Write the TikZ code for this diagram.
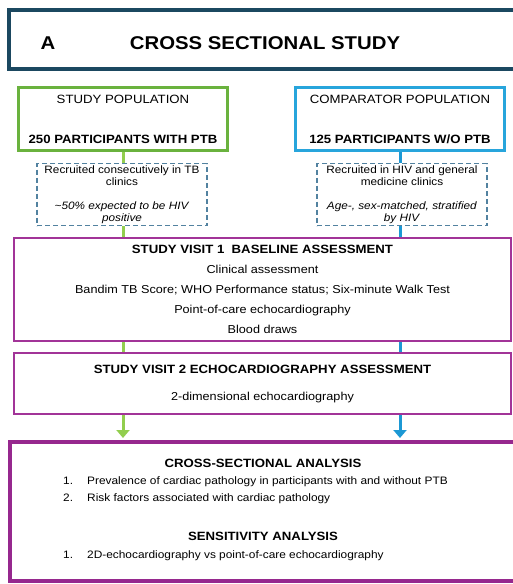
\documentclass[tikz,border=0pt]{standalone}
\usepackage{fontspec}
\setmainfont[FakeStretch=1.1]{Liberation Sans}
\setsansfont[FakeStretch=1.1]{Liberation Sans}
\usetikzlibrary{positioning,arrows.meta,backgrounds}

\definecolor{headnavy}{RGB}{27,72,96}
\definecolor{popgreen}{RGB}{106,178,62}
\definecolor{linkgreen}{RGB}{146,206,78}
\definecolor{popblue}{RGB}{40,165,220}
\definecolor{linkblue}{RGB}{28,152,212}
\definecolor{dashblue}{RGB}{82,130,160}
\definecolor{visitpurple}{RGB}{162,52,152}
\definecolor{resultpurple}{RGB}{150,40,142}

\begin{document}
\begin{tikzpicture}[
    x=1pt, y=-1pt,
    font=\sffamily,
    >={Triangle[length=8pt,width=13pt]},
    headbox/.style ={draw=headnavy, line width=3.5pt, minimum width=536pt,
                     minimum height=59pt, inner sep=0pt},
    headtxt/.style ={font=\fontsize{18.5}{22}\selectfont\bfseries},
    pop/.style     ={draw, line width=3pt, fill=white, align=center,
                     minimum width=209pt, minimum height=63pt, inner sep=0pt,
                     font=\fontsize{12}{14}\selectfont},
    recruit/.style ={draw=dashblue, line width=1.2pt, dash pattern=on 5pt off 3pt,
                     fill=white, align=center, minimum width=170pt,
                     minimum height=62pt, inner sep=0pt,
                     font=\fontsize{10.7}{12}\selectfont},
    visit/.style   ={draw=visitpurple, line width=1.8pt, fill=white, align=center,
                     minimum width=497pt, inner sep=0pt},
    result/.style  ={draw=resultpurple, line width=4pt, minimum width=530pt,
                     minimum height=139pt, inner sep=0pt},
    rhead/.style   ={font=\fontsize{12}{14}\selectfont\bfseries},
    ritem/.style   ={anchor=west, inner sep=0pt, font=\fontsize{10.8}{12}\selectfont},
    glink/.style   ={line width=3pt, linkgreen},
    blink/.style   ={line width=3pt, linkblue},
  ]
  \useasboundingbox (0,0) rectangle (513,584);

  % ------------------------------------------------------------- heading ---
  \node[headbox] (head) at (277,39.5) {};
  \node[headtxt] (letter) at (48,43) {A};
  \node[headtxt] (title) at (265,43) {CROSS SECTIONAL STUDY};

  % --------------------------------------------------------- populations ---
  \node[pop, draw=popgreen] (studypop) at (123,119)
        {STUDY POPULATION\\[26pt]\textbf{250 PARTICIPANTS WITH PTB}};
  \node[pop, draw=popblue] (comppop) at (400,119)
        {COMPARATOR POPULATION\\[26pt]\textbf{125 PARTICIPANTS W/O PTB}};

  % ---------------------------------------------------------- recruitment ---
  \node[recruit] (studyrec) at (122,194.5)
        {Recruited consecutively in TB\\clinics\\[12pt]
        \textit{\textasciitilde50\% expected to be HIV}\\\textit{positive}};
  \node[recruit] (comprec) at (402,194.5)
        {Recruited in HIV and general\\medicine clinics\\[12pt]
        \textit{Age-, sex-matched, stratified}\\\textit{by HIV}};

  % --------------------------------------------------------------- visits ---
  \node[visit, minimum height=103pt, font=\fontsize{11.5}{20}\selectfont]
        (visitone) at (262.5,289.5)
        {{\fontsize{12}{14}\selectfont\bfseries STUDY VISIT 1\ \ BASELINE ASSESSMENT}\\
        Clinical assessment\\
        Bandim TB Score; WHO Performance status; Six-minute Walk Test\\
        Point-of-care echocardiography\\
        Blood draws};
  \node[visit, minimum height=61pt, font=\fontsize{11.5}{27}\selectfont]
        (visittwo) at (262.5,383.5)
        {{\fontsize{12}{14}\selectfont\bfseries STUDY VISIT 2 ECHOCARDIOGRAPHY ASSESSMENT}\\
        2-dimensional echocardiography};

  % ------------------------------------------------------------- analysis ---
  \node[result] (analysis) at (275,511.5) {};
  \node[rhead] (crossh) at (263,463) {CROSS-SECTIONAL ANALYSIS};
  \node[ritem] (crossa) at (63,482)
        {\makebox[24pt][l]{1.}Prevalence of cardiac pathology in participants with and without PTB};
  \node[ritem] (crossb) at (63,499)
        {\makebox[24pt][l]{2.}Risk factors associated with cardiac pathology};
  \node[rhead] (sensh) at (263,536) {SENSITIVITY ANALYSIS};
  \node[ritem] (sensa) at (63,556)
        {\makebox[24pt][l]{1.}2D-echocardiography vs point-of-care echocardiography};

  % ===================================================== edges ================
  \begin{scope}[on background layer]
    % study arm
    \draw[glink] (studypop.south) -- (studypop.south |- studyrec.north);
    \draw[glink] (studypop.south |- studyrec.south) -- (studypop.south |- visitone.north);
    \draw[glink] (studypop.south |- visitone.south) -- (studypop.south |- visittwo.north);
    \draw[glink, ->, shorten >=2pt] (studypop.south |- visittwo.south)
          -- (studypop.south |- analysis.north);
    % comparator arm
    \draw[blink] (comppop.south) -- (comppop.south |- comprec.north);
    \draw[blink] (comppop.south |- comprec.south) -- (comppop.south |- visitone.north);
    \draw[blink] (comppop.south |- visitone.south) -- (comppop.south |- visittwo.north);
    \draw[blink, ->, shorten >=2pt] (comppop.south |- visittwo.south)
          -- (comppop.south |- analysis.north);
  \end{scope}

\end{tikzpicture}
\end{document}
